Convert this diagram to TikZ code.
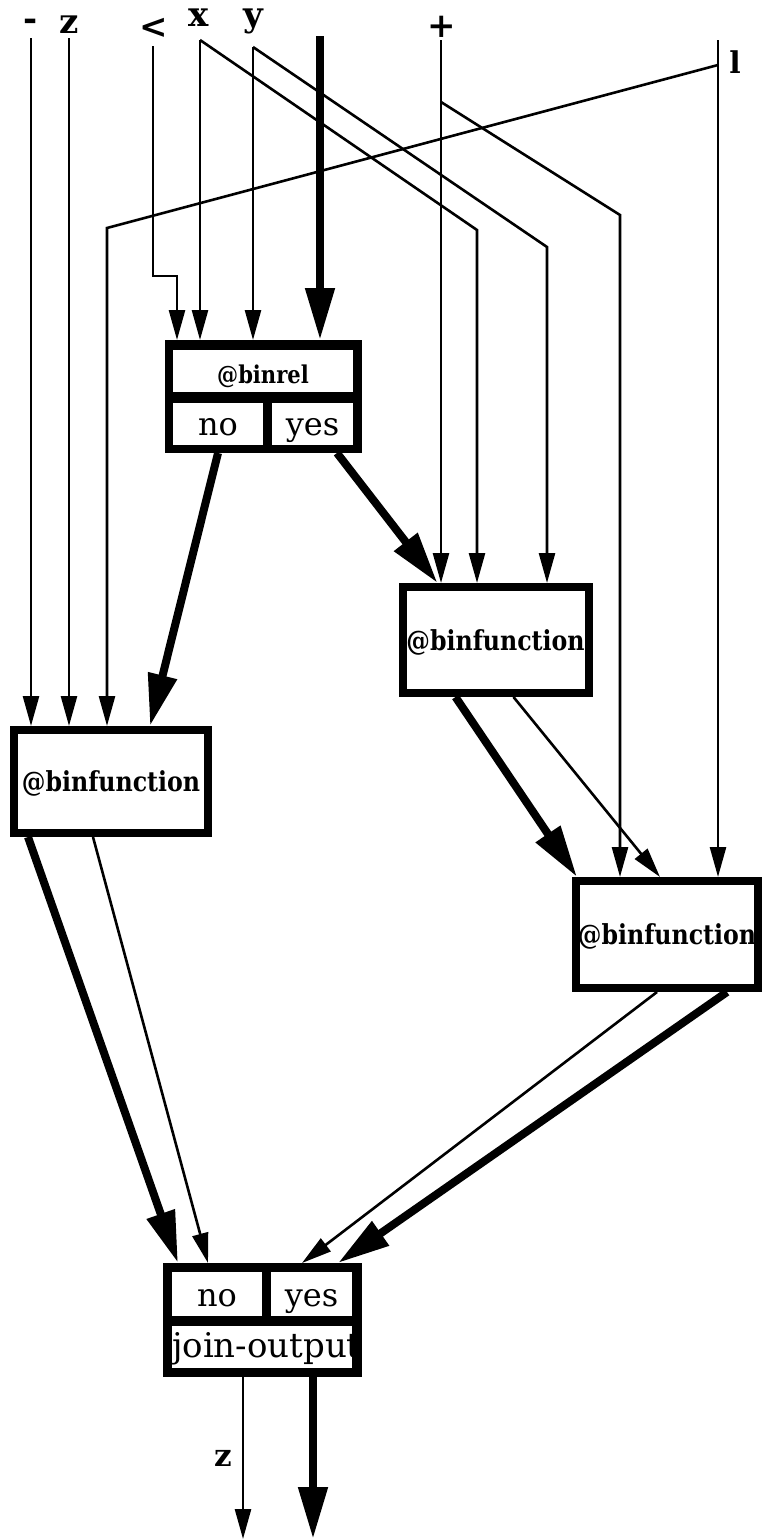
\documentclass[tikz,border=0pt]{standalone}
\usepackage{fontspec}
\setmainfont{DejaVu Serif}
\newfontfamily\condfont{DejaVu Serif}[FakeStretch=0.86]
\usetikzlibrary{arrows.meta,calc}
\begin{document}
\begin{tikzpicture}[x=1pt,y=-1pt,
  thinar/.style={line width=2.6pt,-{Triangle[length=30pt,width=16pt]}},
  thickar/.style={line width=8pt,-{Triangle[length=52pt,width=28pt]}},
  lab/.style={inner sep=0pt,font=\bfseries\fontsize{34}{36}\selectfont},
  fbox/.style={draw,line width=8pt,fill=white,inner sep=0pt,text height=20pt,text depth=0pt,font=\condfont\bfseries\fontsize{27.5}{30}\selectfont},
  frame/.style={fill=black,inner sep=0pt,outer sep=0pt},
  cell/.style={fill=white,inner sep=0pt,outer sep=0pt,font=\fontsize{32}{34}\selectfont},
  topcell/.style={cell,text height=25pt,text depth=1pt,font=\condfont\bfseries\fontsize{24.5}{26}\selectfont}]
\useasboundingbox (0,0) rectangle (762,1539);
% top labels
\node[lab] (tm) at (31,25) {-};
\node[lab,anchor=base] (tz) at (69,33) {z};
\node[lab] (tlt) at (154,28) {<};
\node[lab,anchor=base] (tx) at (199,27) {x};
\node[lab,anchor=base] (ty) at (253,27) {y};
\node[lab] (tp) at (442,27) {+};
\node[lab,anchor=base,font=\bfseries\fontsize{30}{32}\selectfont] (tl) at (735,73) {l};
% boxes
\node[frame,minimum width=197pt,minimum height=113pt] (binrel) at (263.5,396.5) {};
\node[topcell,minimum width=180pt,minimum height=42pt] (brtop) at (263,371) {@binrel};
\node[cell,text height=23pt,text depth=1pt,minimum width=90pt,minimum height=42pt] (brno) at (218,424) {no};
\node[cell,text height=23pt,text depth=1pt,minimum width=81pt,minimum height=42pt] (bryes) at (312.5,424) {yes};
\node[fbox,minimum width=186pt,minimum height=106pt] (bfR1) at (495.5,640) {@binfunction};
\node[fbox,minimum width=194pt,minimum height=103pt] (bfL) at (111,781.5) {@binfunction};
\node[fbox,minimum width=182pt,minimum height=107pt] (bfR2) at (667,934.5) {@binfunction};
\node[frame,minimum width=199pt,minimum height=114pt] (join) at (262.5,1320) {};
\node[cell,text height=25pt,text depth=1pt,minimum width=90pt,minimum height=44pt] (jno) at (217,1294) {no};
\node[cell,text height=25pt,text depth=1pt,minimum width=81pt,minimum height=44pt] (jyes) at (311.5,1294) {yes};
\node[cell,minimum width=180pt,minimum height=42pt] (jout) at (262,1347) {};
\begin{scope}
\clip (jout.north west) rectangle (jout.south east);
\node[cell,fill=none,anchor=base west,font=\fontsize{34}{36}\selectfont] (jtext) at ($(jout.west)+(0,10)$) {join-output};
\end{scope}
% coordinates
\coordinate (pm) at (31,38);
\coordinate (pz) at (69,38);
\coordinate (plt) at (153,46);
\coordinate (ltc) at (177,276);
\coordinate (px) at (200,40);
\coordinate (py) at (253,47);
\coordinate (pth) at (320,36);
\coordinate (pp) at (441,40);
\coordinate (pl) at (718,40);
\coordinate (xb) at (477,230);
\coordinate (yb) at (547,247);
\coordinate (pb0) at (441,102);
\coordinate (pb) at (620,215);
\coordinate (lb0) at (718,65);
\coordinate (lb) at (107,228);
\coordinate (o1) at (243,1539);
\coordinate (o2) at (313,1539);
% inputs
\draw[thinar] (pm) -- (pm |- bfL.north);
\draw[thinar] (pz) -- (pz |- bfL.north);
\draw[thinar] (plt) |- (ltc) -- (ltc |- binrel.north);
\draw[thinar] (px) -- (px |- binrel.north);
\draw[thinar] (py) -- (py |- binrel.north);
\draw[thickar] (pth) -- (pth |- binrel.north);
\draw[thinar] (px) -- (xb) -- (xb |- bfR1.north);
\draw[thinar] (py) -- (yb) -- (yb |- bfR1.north);
\draw[thinar] (pp) -- (pp |- bfR1.north);
\draw[thinar] (pb0) -- (pb) -- (pb |- bfR2.north);
\draw[thinar] (pl) -- (pl |- bfR2.north);
\draw[thinar] (lb0) -- (lb) -- (lb |- bfL.north);
% binrel outputs
\draw[thickar] (brno |- binrel.south) -- ($(bfL.north west)+(140,0)$);
\draw[thickar] ($(binrel.south east)+(-25,0)$) -- ($(bfR1.north west)+(39,0)$);
% bfR1 outputs
\draw[thickar] ($(bfR1.south west)+(57,0)$) -- ($(bfR2.north west)+(5,0)$);
\draw[thinar] ($(bfR1.south west)+(115,0)$) -- ($(bfR2.north west)+(88,0)$);
% bfL outputs
\draw[thickar] ($(bfL.south west)+(18,0)$) -- ($(join.north west)+(15,0)$);
\draw[thinar] ($(bfL.south west)+(83,0)$) -- ($(join.north west)+(45,0)$);
% bfR2 outputs
\draw[thinar] ($(bfR2.south west)+(85,0)$) -- ($(join.north west)+(139,0)$);
\draw[thickar] ($(bfR2.south west)+(155,0)$) -- ($(join.north west)+(175,0)$);
% join outputs
\draw[thinar] (o1 |- join.south) -- (o1);
\draw[thickar] (o2 |- join.south) -- (o2);
\node[lab,anchor=base,font=\bfseries\fontsize{31}{33}\selectfont] (bz) at (223,1466) {z};
\end{tikzpicture}
\end{document}
